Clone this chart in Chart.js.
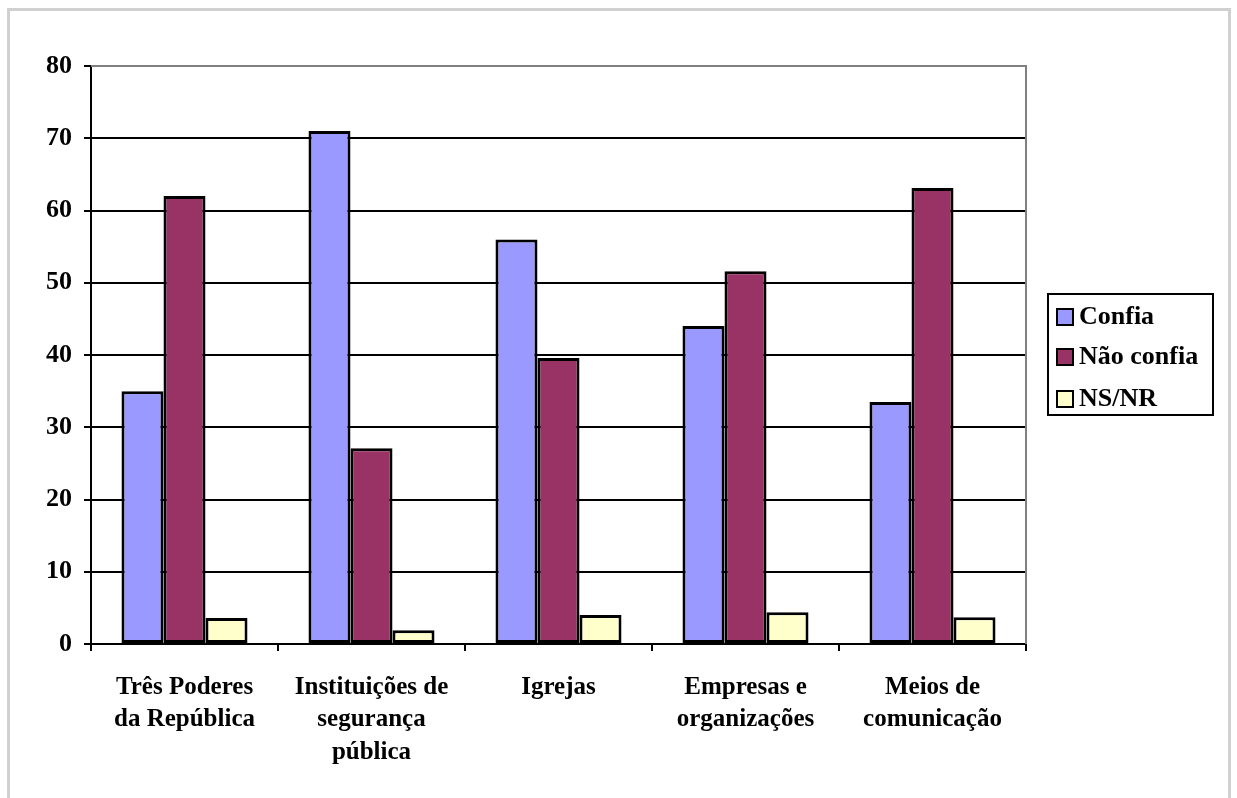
<!DOCTYPE html>
<html>
<head>
<meta charset="utf-8">
<script src="https://cdn.jsdelivr.net/npm/chart.js@4/dist/chart.umd.min.js"></script>
<style>
  body { margin: 0; background: #fff; }
  #frame {
    position: absolute; left: 7px; top: 8px; width: 1218px; height: 820px;
    border: 3px solid #d0d0d0;
  }
  #wrap { position: absolute; left: 0; top: 0; width: 1237px; height: 798px; }
</style>
</head>
<body>
<div id="frame"></div>
<div id="wrap"><canvas id="barChart" width="1237" height="798"></canvas></div>
<script>
const categories = [
  ["Três Poderes", "da República"],
  ["Instituições de", "segurança", "pública"],
  ["Igrejas"],
  ["Empresas e", "organizações"],
  ["Meios de", "comunicação"],
];
const confia = [35, 71, 56, 44, 33.5];
const naoConfia = [62, 27.1, 39.6, 51.6, 63.1];
const nsnr = [3.6, 1.9, 4.0, 4.4, 3.7];
const yTicks = [0, 10, 20, 30, 40, 50, 60, 70, 80];

const FONT = "'Liberation Serif', 'Times New Roman', serif";

// legend box + gray top/right edges of the plot
const framePlugin = {
  id: "framePlugin",
  afterDraw(chart) {
    const ctx = chart.ctx;
    const a = chart.chartArea;
    ctx.save();
    ctx.strokeStyle = "#808080";
    ctx.lineWidth = 2;
    ctx.beginPath();
    ctx.moveTo(a.left, a.top);
    ctx.lineTo(a.right, a.top);
    ctx.lineTo(a.right, a.bottom);
    ctx.stroke();

    // legend
    const lx = 1048, ly = 294, lw = 165, lh = 121;
    ctx.strokeStyle = "#000";
    ctx.lineWidth = 2;
    ctx.strokeRect(lx, ly, lw, lh);
    ctx.font = "bold 26px " + FONT;
    ctx.textBaseline = "middle";
    const rows = [316, 356, 398];
    chart.data.datasets.forEach((ds, i) => {
      ctx.fillStyle = ds.backgroundColor;
      ctx.fillRect(lx + 9, rows[i] - 7, 16, 16);
      ctx.strokeRect(lx + 9, rows[i] - 7, 16, 16);
      ctx.fillStyle = "#000";
      ctx.fillText(ds.label, lx + 31, rows[i] + 1);
    });
    ctx.restore();
  },
};

const barCtx = document.getElementById("barChart").getContext("2d");
new Chart(barCtx, {
  type: "bar",
  data: {
    labels: categories,
    datasets: [
      { label: "Confia", data: confia, backgroundColor: "#9999FF" },
      { label: "Não confia", data: naoConfia, backgroundColor: "#993366" },
      { label: "NS/NR", data: nsnr, backgroundColor: "#FFFFCC" },
    ],
  },
  options: {
    responsive: false,
    animation: false,
    layout: { padding: { left: 20, top: 66, right: 211, bottom: 0 } },
    datasets: {
      bar: {
        borderColor: "#000",
        borderWidth: 3,
        borderSkipped: false,
        categoryPercentage: 0.674,
        barPercentage: 1,
      },
    },
    plugins: {
      legend: { display: false },
      tooltip: { enabled: false },
    },
    scales: {
      x: {
        offset: true,
        afterFit(scale) { scale.height = 154; },
        grid: {
          offset: true,
          drawOnChartArea: false,
          drawTicks: true,
          tickLength: 7,
          tickColor: "#000",
          lineWidth: 2,
        },
        border: { color: "#000", width: 2 },
        ticks: {
          color: "#000",
          maxRotation: 0,
          autoSkip: false,
          padding: 20,
          font: { family: FONT, size: 25, weight: "bold", lineHeight: 1.3 },
        },
      },
      y: {
        min: 0,
        max: 80,
        afterFit(scale) { scale.width = 71; },
        afterBuildTicks(scale) { scale.ticks = yTicks.map((v) => ({ value: v })); },
        grid: {
          color: (c) => (c.tick && c.tick.value === 80 ? "#808080" : "#000"),
          lineWidth: 2,
          tickLength: 7,
          tickColor: "#000",
        },
        border: { color: "#000", width: 2 },
        ticks: {
          color: "#000",
          padding: 12,
          font: { family: FONT, size: 26, weight: "bold" },
        },
      },
    },
  },
  plugins: [framePlugin],
});
</script>
</body>
</html>
